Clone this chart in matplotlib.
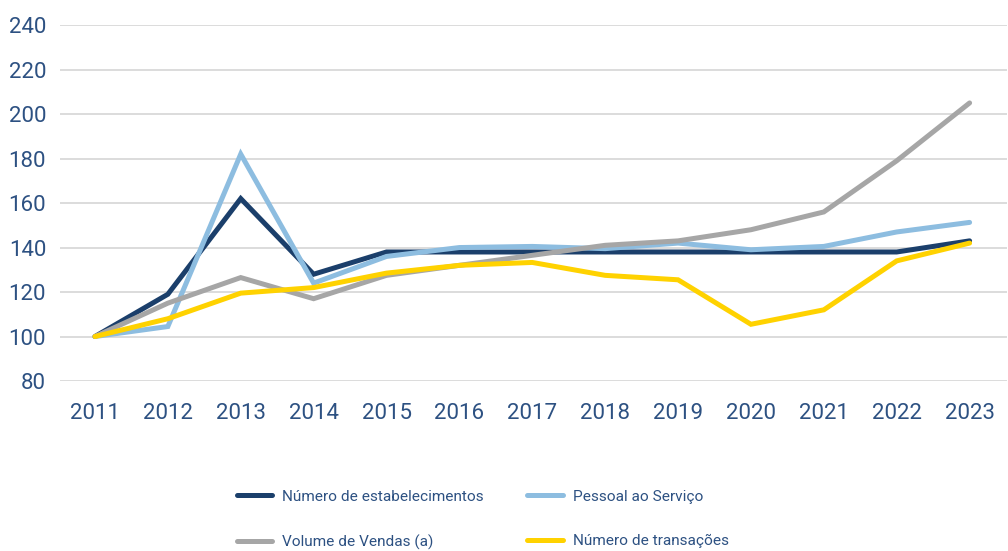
import matplotlib.pyplot as plt

plt.rcParams['font.family'] = ['Roboto', 'DejaVu Sans']

anos = [2011, 2012, 2013, 2014, 2015, 2016, 2017, 2018, 2019, 2020, 2021, 2022, 2023]
estabelecimentos = [100, 119, 162, 128, 138, 138, 138, 138, 138, 138, 138, 138, 143]
pessoal = [100, 104.5, 182, 124, 136, 140, 140.5, 139.5, 142, 139, 140.5, 147, 151.3]
vendas = [100, 115, 126.5, 117, 127.5, 132, 136.5, 141, 143, 148, 156, 179, 205]
transacoes = [100, 108, 119.5, 122, 128.5, 132, 133.3, 127.5, 125.5, 105.5, 112, 134, 142]

series = [
    ("Número de estabelecimentos", estabelecimentos, "#1b3f6b"),
    ("Pessoal ao Serviço", pessoal, "#8dbde0"),
    ("Volume de Vendas (a)", vendas, "#a6a6a6"),
    ("Número de transações", transacoes, "#ffd200"),
]

txt = "#2d5182"

fig = plt.figure(figsize=(10.08, 5.51), dpi=100)
ax = fig.add_axes([0.0595, 0.3085, 0.94, 0.646])

linhas = []
for nome, vals, cor in series:
    l, = ax.plot(anos, vals, color=cor, lw=3.6, label=nome, solid_capstyle='round',
                 solid_joinstyle='miter')
    linhas.append(l)

ax.set_xlim(2010.52, 2023.52)
ax.set_ylim(80, 240)
ax.set_yticks(range(80, 241, 20))
ax.set_xticks(anos)
ax.grid(axis='y', color='#d9d9d9', lw=1.3)
ax.set_axisbelow(True)
for s in ax.spines.values():
    s.set_visible(False)
ax.tick_params(length=0, labelsize=16, colors=txt)
ax.tick_params(axis='x', pad=16)
ax.tick_params(axis='y', pad=10)

# legenda em duas colunas (preenchida por linhas)
ordem = [0, 2, 1, 3]
leg = fig.legend([linhas[i] for i in ordem], [series[i][0] for i in ordem],
                 loc='center', bbox_to_anchor=(0.479, 0.057), ncol=2, frameon=False,
                 fontsize=11.1, handlelength=2.3, handletextpad=0.65,
                 columnspacing=2.8, labelspacing=2.0)
for t in leg.get_texts():
    t.set_color(txt)

fig.savefig("out.png", dpi=100)
